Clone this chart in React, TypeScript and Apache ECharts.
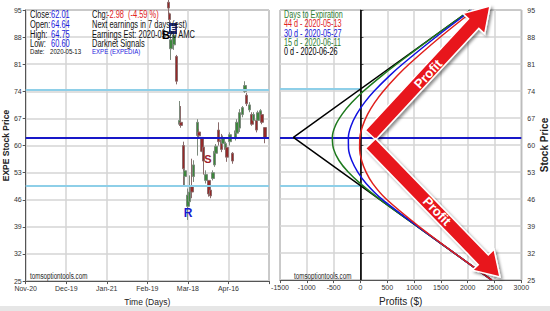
import React, { useEffect, useRef } from 'react';
import * as echarts from 'echarts';

// ---- left chart (time axis, day index from Nov-20) ----
const timeTickLabels = ['Nov-20', 'Dec-19', 'Jan-21', 'Feb-19', 'Mar-18', 'Apr-16', ''];
const candleDays = [102, 103, 104, 106, 108, 110, 111, 113, 114, 116, 117, 119, 120, 123, 124, 126, 127, 129, 131, 132, 134, 135, 136, 138, 140, 141, 143, 144, 146, 148, 150, 151, 153, 155, 157, 158, 160, 162, 163, 165, 166, 168, 169, 171];
const opens = [97, 94, 85, 86, 83, 65.5, 66, 60, 52, 44.3, 45.5, 49.5, 52, 62.6, 63.5, 62.1, 59.6, 51, 51, 48.5, 51.5, 55, 58, 64, 61.5, 60.5, 59, 59.5, 61, 58, 62, 63.2, 64.5, 68, 74, 73, 69.2, 68, 66.5, 66.5, 66.5, 67, 68, 64.64];
const closes = [95.5, 92.5, 87.3, 88.5, 76.6, 66.5, 65.2, 54, 53.5, 47.2, 48, 48, 55, 66, 62.5, 58.5, 56, 52.5, 47.5, 47, 53, 58.5, 59.8, 61, 59, 62, 60.5, 57, 62.8, 56, 63.8, 66, 68.5, 69.8, 75.5, 70.8, 70.5, 65.5, 68, 64, 68.5, 69, 66, 62.01];
const lows = [93.4, 91.6, 82.1, 84.7, 75.8, 65.1, 64.6, 49.4, 49.4, 40.8, 44.7, 46.4, 50.6, 57.4, 61.7, 58.3, 52.5, 50.2, 46.8, 46.4, 51, 54.5, 57.4, 60, 58.3, 60, 58.3, 55.8, 60, 55.3, 61.3, 62.6, 63.5, 67.3, 73.6, 70.2, 68.6, 65.1, 66, 63.4, 66.4, 66, 65.5, 60.6];
const highs = [99, 94.3, 92, 90.6, 83.4, 71.5, 70.2, 61, 54, 48.9, 52.3, 56.6, 56.2, 66.8, 64.3, 62.1, 59.6, 53.6, 51, 49, 53.6, 59.2, 60.4, 66, 63, 62.6, 61, 60, 63.4, 58.3, 64.3, 66.8, 69.4, 70.2, 76.6, 73.6, 71.2, 68.6, 68.6, 67.7, 69, 69.4, 68.6, 64.75];

const lastClose = 62.01;
const upperBreakeven = 74.5;
const lowerBreakeven = 49.5;

// ---- right chart (profit vs stock price) ----
const profitTicks = [-1500, 3000, 500];
const curvePrices = [25, 32, 39, 46, 50, 53, 56, 59, 62, 65, 68, 71, 74, 78, 81, 88, 95];
const profit44d = [2450, 1753, 1082, 480, 230, 105, 22, -15, -10, 42, 135, 265, 430, 690, 910, 1490, 2120];
const profit30d = [2450, 1751, 1059, 400, 110, -50, -162, -222, -225, -174, -70, 75, 257, 545, 788, 1408, 2074];
const profit15d = [2450, 1750, 1050, 355, 0, -228, -400, -502, -524, -468, -340, -162, 60, 402, 679, 1356, 2051];
const expiryPrices = [25, 62, 95];
const profit0d = [2450, -1250, 2050];

const infoLeft = [
  ['Close:', '62.01'],
  ['Open:', '64.64'],
  ['High:', '64.75'],
  ['Low:', '60.60'],
];
const legendRows = [
  ['Days to Expiration', '#2e7d32'],
  ['44 d - 2020-05-13', '#e0201c'],
  ['30 d - 2020-05-27', '#1515d8'],
  ['15 d - 2020-06-11', '#2e7d32'],
  ['0 d - 2020-06-26', '#000000'],
];

const FONT = 'Liberation Sans, Arial, sans-serif';
const gridLine = { show: true, lineStyle: { color: '#d4d4d4', width: 1.5 } };
const axisLineStyle = { show: true, lineStyle: { color: '#555', width: 1 } };

function arrowPoints(tail: number[], tip: number[], sw: number, hw: number, hl: number) {
  const dx = tip[0] - tail[0];
  const dy = tip[1] - tail[1];
  const L = Math.hypot(dx, dy);
  const ux = dx / L, uy = dy / L;
  const nx = -uy, ny = ux;
  const bx = tip[0] - ux * hl, by = tip[1] - uy * hl;
  return [
    [tail[0] + nx * sw, tail[1] + ny * sw],
    [bx + nx * sw, by + ny * sw],
    [bx + nx * hw, by + ny * hw],
    [tip[0], tip[1]],
    [bx - nx * hw, by - ny * hw],
    [bx - nx * sw, by - ny * sw],
    [tail[0] - nx * sw, tail[1] - ny * sw],
  ];
}

function txt(x: number, y: number, text: string, fill: string, size: number, extra: any = {}) {
  const el: any = {
    type: 'text',
    x,
    y,
    silent: true,
    z: 100,
    style: {
      text,
      fill,
      font: `${extra.weight || 'normal'} ${size}px ${FONT}`,
      align: extra.align || 'left',
      textAlign: extra.align || 'left',
      verticalAlign: 'middle',
      textVerticalAlign: 'middle',
    },
  };
  if (extra.rotation !== undefined) el.rotation = extra.rotation;
  if (extra.sx !== undefined) el.scaleX = extra.sx;
  return el;
}

export default function App() {
  const ref = useRef<HTMLDivElement>(null);
  useEffect(() => {
    const chart = echarts.init(ref.current!, null, { renderer: 'svg' });

    const candleData = candleDays.map((d, i) => [d, opens[i], closes[i], lows[i], highs[i]]);
    const pairs = (xs: number[], ys: number[]) => xs.map((x, i) => [x, ys[i]]);

    const arrowStyle = {
      fill: '#e8141b',
      stroke: '#ffffff',
      lineWidth: 1.5,
      shadowBlur: 3,
      shadowColor: 'rgba(0,0,0,0.45)',
      shadowOffsetX: 2,
      shadowOffsetY: 2,
    };

    const N = { sx: 0.68 };
    const graphics: any[] = [];
    // info box
    const rowsY = [14, 24, 34, 43];
    infoLeft.forEach((r, i) => {
      graphics.push(txt(30, rowsY[i], r[0], '#111', 11, N));
      graphics.push(txt(51, rowsY[i], r[1], '#1a1adc', 11, N));
    });
    graphics.push(txt(30, 52, 'Date:', '#111', 8, { sx: 0.76 }));
    graphics.push(txt(50, 52, '2020-05-13', '#111', 8, { sx: 0.76 }));
    graphics.push(txt(92, 14, 'Chg:', '#111', 11, N));
    graphics.push(txt(107, 14, '-2.98', '#e0201c', 11, N));
    graphics.push(txt(128, 14, '(-4.59 %)', '#e0201c', 11, N));
    graphics.push(txt(92, 24, 'Next earnings in 7 days (est)', '#111', 11, N));
    graphics.push(txt(92, 34, 'Earnings Est: 2020-05-20 AMC', '#111', 11, N));
    graphics.push(txt(92, 43, 'Darknet Signals', '#111', 11, N));
    graphics.push(txt(92, 52, 'EXPE (EXPEDIA)', '#1a1adc', 8, { sx: 0.76 }));
    // signal labels
    graphics.push({ type: 'rect', shape: { x: 169, y: 23, width: 8, height: 11 }, style: { fill: '#1c2a7a' }, z: 99, silent: true });
    graphics.push(txt(173, 28.5, 'E', '#ffffff', 8, { align: 'center', weight: 'bold' }));
    graphics.push(txt(166, 35, 'B', '#000', 11, { align: 'center', weight: 'bold' }));
    graphics.push(txt(188, 213, 'R', '#1a1ad0', 12, { align: 'center', weight: 'bold' }));
    graphics.push(txt(208, 159, 'S', '#a01c2c', 11, { align: 'center', weight: 'bold' }));
    // watermarks
    graphics.push(txt(30, 276, 'tomsoptiontools.com', '#222', 9.5, { sx: 0.66 }));
    graphics.push(txt(294, 276, 'tomsoptiontools.com', '#222', 9.5, { sx: 0.66 }));
    // legend
    const legY = [15, 24, 33.5, 42.5, 51.5];
    legendRows.forEach((r, i) => graphics.push(txt(284, legY[i], r[0], r[1], 10.5, { sx: 0.69 })));
    // arrows
    const upTail = [370.5, 135], upTip = [490, 6];
    const dnTail = [370.5, 143.5], dnTip = [500, 277];
    graphics.push({ type: 'polygon', z: 90, silent: true, shape: { points: arrowPoints(upTail, upTip, 7, 15, 24) }, style: arrowStyle });
    graphics.push({ type: 'polygon', z: 90, silent: true, shape: { points: arrowPoints(dnTail, dnTip, 7, 15, 24) }, style: arrowStyle });
    graphics.push(txt(428, 74, 'Profit', '#ffffff', 13, { align: 'center', weight: 'bold', rotation: Math.atan2(upTail[1] - upTip[1], upTip[0] - upTail[0]) }));
    graphics.push(txt(437, 211, 'Profit', '#ffffff', 13, { align: 'center', weight: 'bold', rotation: -Math.atan2(dnTip[1] - dnTail[1], dnTip[0] - dnTail[0]) }));
    // bottom strip
    graphics.push({ type: 'rect', silent: true, shape: { x: 0, y: 306, width: 550, height: 5 }, style: { fill: '#e6e6e6' } });

    const tickStyle = { show: true, length: 3, lineStyle: { color: '#555' } };
    const option: any = {
      animation: false,
      backgroundColor: '#ffffff',
      textStyle: { fontFamily: FONT },
      grid: [
        { left: 24, top: 10, width: 245, height: 274, show: true, borderColor: '#555', borderWidth: 1 },
        { left: 280, top: 10, width: 245, height: 274, show: true, borderColor: '#555', borderWidth: 1 },
      ],
      xAxis: [
        {
          gridIndex: 0, type: 'value', min: 0, max: 174, interval: 29,
          axisLabel: { fontSize: 7, color: '#333', margin: 4, formatter: (v: number) => timeTickLabels[Math.round(v / 29)] ?? '' },
          splitLine: gridLine, axisLine: axisLineStyle, axisTick: tickStyle,
          name: 'Time (Days)', nameLocation: 'middle', nameGap: 13, nameTextStyle: { fontSize: 8.5, color: '#222' },
        },
        {
          gridIndex: 1, type: 'value', min: profitTicks[0], max: profitTicks[1], interval: profitTicks[2],
          axisLabel: { fontSize: 7, color: '#333', margin: 4, formatter: (v: number) => String(v) },
          splitLine: gridLine, axisLine: axisLineStyle, axisTick: tickStyle,
          name: 'Profits ($)', nameLocation: 'middle', nameGap: 13, nameTextStyle: { fontSize: 10, color: '#222' },
        },
      ],
      yAxis: [
        {
          gridIndex: 0, type: 'value', min: 25, max: 95, interval: 7, position: 'left',
          axisLabel: { fontSize: 7, color: '#333', margin: 4 },
          splitLine: gridLine, axisLine: axisLineStyle, axisTick: tickStyle,
          name: 'EXPE Stock Price', nameLocation: 'middle', nameGap: 12, nameTextStyle: { fontSize: 8.5, fontWeight: 'bold', color: '#222' },
        },
        {
          gridIndex: 1, type: 'value', min: 25, max: 95, interval: 7, position: 'right',
          axisLabel: { fontSize: 7, color: '#333', margin: 6 },
          splitLine: gridLine, axisLine: axisLineStyle, axisTick: tickStyle,
          name: 'Stock Price', nameLocation: 'middle', nameGap: 12, nameTextStyle: { fontSize: 10, fontWeight: 'bold', color: '#222' },
        },
      ],
      series: [
        {
          type: 'candlestick', xAxisIndex: 0, yAxisIndex: 0, barWidth: 3, clip: true,
          data: candleData, encode: { x: 0, y: [1, 2, 3, 4] },
          itemStyle: { color: '#3c873c', color0: '#962828', borderColor: '#7c8a7c', borderColor0: '#8a6a6a', borderWidth: 1 },
          markLine: {
            silent: true, symbol: 'none', label: { show: false }, animation: false,
            data: [
              { yAxis: upperBreakeven, lineStyle: { color: '#8ecfe8', width: 2, type: 'solid' } },
              { yAxis: lowerBreakeven, lineStyle: { color: '#8ecfe8', width: 2, type: 'solid' } },
              { yAxis: lastClose, lineStyle: { color: '#1818c8', width: 2, type: 'solid' } },
            ],
          },
        },
        {
          type: 'line', xAxisIndex: 1, yAxisIndex: 1, data: pairs(profit0d, expiryPrices),
          showSymbol: false, lineStyle: { color: '#000', width: 1.5 }, clip: true, z: 5,
          markLine: {
            silent: true, symbol: 'none', label: { show: false }, animation: false,
            data: [
              [{ coord: [profitTicks[0], upperBreakeven] }, { coord: [0, upperBreakeven] }],
              [{ coord: [profitTicks[0], lowerBreakeven] }, { coord: [0, lowerBreakeven] }],
              { yAxis: lastClose, lineStyle: { color: '#1818c8', width: 2, type: 'solid' } },
              { xAxis: 0, lineStyle: { color: '#000', width: 1.5, type: 'solid' } },
            ],
            lineStyle: { color: '#8ecfe8', width: 2, type: 'solid' },
          },
        },
        { type: 'line', xAxisIndex: 1, yAxisIndex: 1, data: pairs(profit15d, curvePrices), smooth: 0.3, showSymbol: false, lineStyle: { color: '#1e7a1e', width: 1.5 }, clip: true, z: 5 },
        { type: 'line', xAxisIndex: 1, yAxisIndex: 1, data: pairs(profit30d, curvePrices), smooth: 0.3, showSymbol: false, lineStyle: { color: '#1010e0', width: 1.5 }, clip: true, z: 5 },
        { type: 'line', xAxisIndex: 1, yAxisIndex: 1, data: pairs(profit44d, curvePrices), smooth: 0.3, showSymbol: false, lineStyle: { color: '#e0201c', width: 1.5 }, clip: true, z: 5 },
      ],
      graphic: graphics,
    };
    chart.setOption(option);
    return () => chart.dispose();
  }, []);
  return <div ref={ref} style={{ position: 'absolute', left: 0, top: 0, width: 550, height: 311 }} />;
}
